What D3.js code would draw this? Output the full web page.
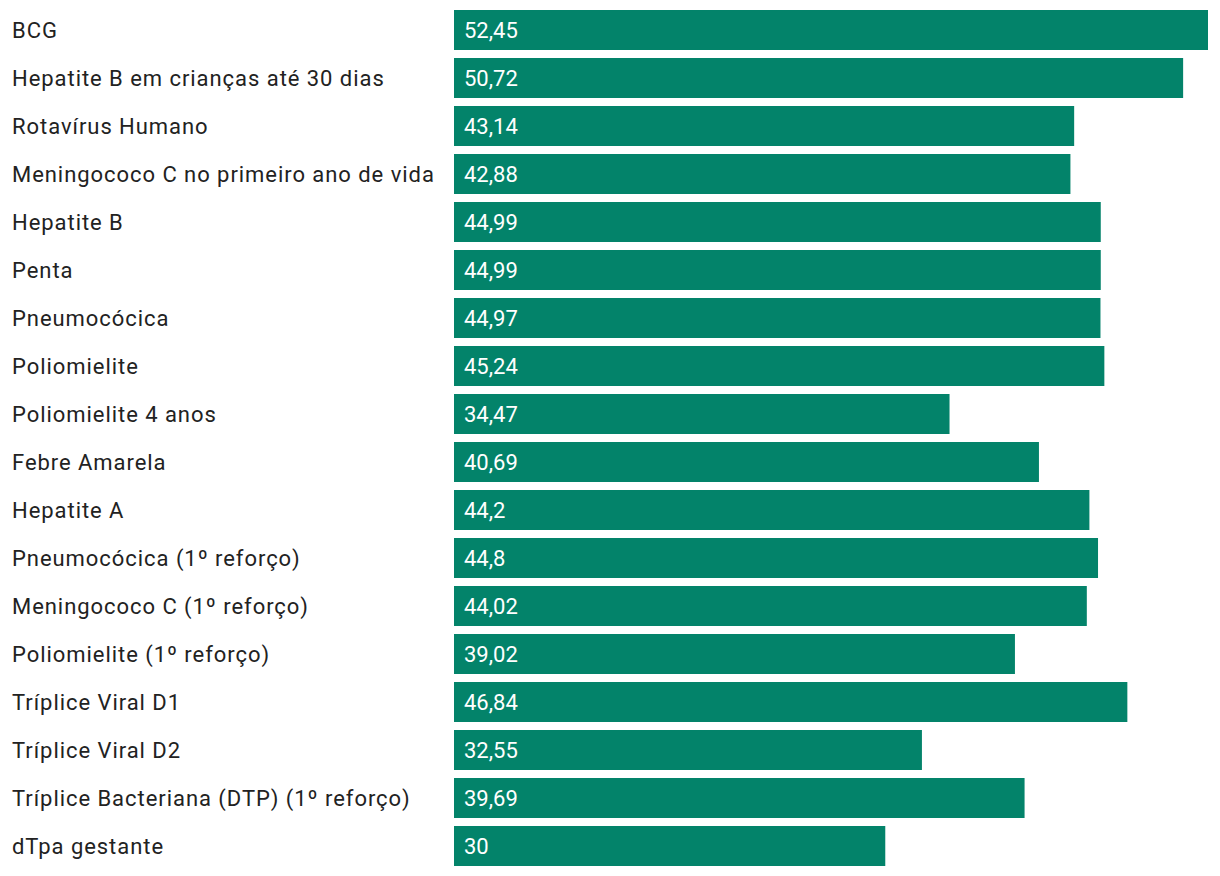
<!DOCTYPE html>
<html><head><meta charset="utf-8">
<script src="https://cdn.jsdelivr.net/npm/d3@7"></script>
<style>body{margin:0;background:#fff;}svg{display:block;font-family:Roboto,sans-serif;}</style>
</head><body>
<svg id="c" width="1220" height="876"></svg>
<script>
const categories = ["BCG","Hepatite B em crianças até 30 dias","Rotavírus Humano","Meningococo C no primeiro ano de vida","Hepatite B","Penta","Pneumocócica","Poliomielite","Poliomielite 4 anos","Febre Amarela","Hepatite A","Pneumocócica (1º reforço)","Meningococo C (1º reforço)","Poliomielite (1º reforço)","Tríplice Viral D1","Tríplice Viral D2","Tríplice Bacteriana (DTP) (1º reforço)","dTpa gestante"];
const values = [52.45,50.72,43.14,42.88,44.99,44.99,44.97,45.24,34.47,40.69,44.2,44.8,44.02,39.02,46.84,32.55,39.69,30];
const valueLabels = ["52,45","50,72","43,14","42,88","44,99","44,99","44,97","45,24","34,47","40,69","44,2","44,8","44,02","39,02","46,84","32,55","39,69","30"];

const svg = d3.select("#c");
const x = d3.scaleLinear().domain([0, d3.max(values)]).range([454, 1208]);
const step = 48;
const y = d3.scaleBand().domain(categories)
  .range([6, 6 + step * categories.length])
  .paddingInner(8/48).paddingOuter(4/48);

const rows = svg.append("g").selectAll("g.row").data(categories).join("g").attr("class","row");
rows.append("text")
  .attr("x", 12).attr("y", d => y(d) + y.bandwidth()/2)
  .attr("dy", "0.36em")
  .attr("fill", "#222").attr("font-size", 22)
  .attr("letter-spacing", 0.95)
  .text(d => d);
rows.append("rect")
  .attr("x", x(0)).attr("y", d => y(d))
  .attr("width", (d,i) => x(values[i]) - x(0))
  .attr("height", y.bandwidth())
  .attr("fill", "#03836a");
rows.append("text")
  .attr("x", x(0) + 10).attr("y", d => y(d) + y.bandwidth()/2)
  .attr("dy", "0.36em")
  .attr("fill", "#fff").attr("font-size", 22)
  .text((d,i) => valueLabels[i]);
</script>
</body></html>
